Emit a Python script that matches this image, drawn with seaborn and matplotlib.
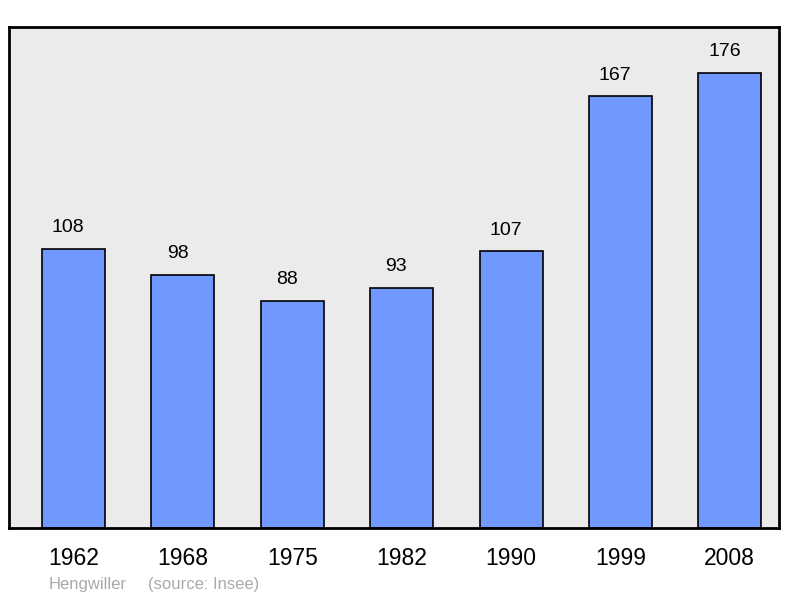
import matplotlib
matplotlib.use("Agg")
import matplotlib.pyplot as plt
import seaborn as sns
import pandas as pd

years = ["1962", "1968", "1975", "1982", "1990", "1999", "2008"]
population = [108, 98, 88, 93, 107, 167, 176]
commune = "Hengwiller"
source = "(source: Insee)"

sns.set_theme(style="white")
plt.rcParams['font.family'] = ['Liberation Sans', 'DejaVu Sans']

df = pd.DataFrame({"year": years, "pop": population})

fig = plt.figure(figsize=(8.0, 5.98), dpi=100)
ax = fig.add_axes([9/800, 1 - 528/598, 770/800, 501/598])
ax.set_facecolor("#ebebeb")

sns.barplot(data=df, x="year", y="pop", color="#7098ff", saturation=1,
            edgecolor="black", linewidth=1.2, width=0.576, ax=ax)

for i, v in enumerate(population):
    ax.text(i - 0.048, v + 8.2, str(v), ha="center", va="center", fontsize=14, color="black")

ax.set_xlim(-0.59, 6.45)
ax.set_ylim(0, 193.8)
ax.set_yticks([])
ax.set_xlabel("")
ax.set_ylabel("")
ax.tick_params(axis="x", length=0, labelsize=16.5, pad=14, colors="black")
for lbl in ax.get_xticklabels():
    lbl.set_x(lbl.get_position()[0])
for s in ax.spines.values():
    s.set_visible(True)
    s.set_color("black")
    s.set_linewidth(2)

fig.text(49/800, 1 - 585/598, commune, fontsize=12, color="#aaaaaa", va="center", ha="left")
fig.text(148/800, 1 - 585/598, source, fontsize=12, color="#aaaaaa", va="center", ha="left")

fig.savefig("out.png", dpi=100)
